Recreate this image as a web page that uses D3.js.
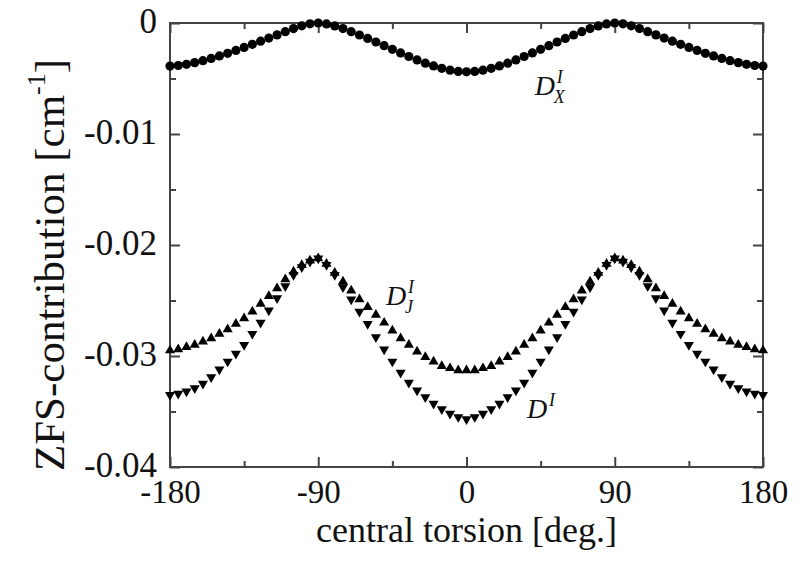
<!DOCTYPE html>
<html>
<head>
	<meta charset="utf-8">
	<script src="https://d3js.org/d3.v7.min.js"></script>
	<style>
		body { margin: 0; background: #fff; }
		text { font-family: "Liberation Serif", "Times New Roman", serif; fill: #111; }
	</style>
</head>
<body>
	<script type="text/javascript">

		// torsion angles -180..180 every 5 deg
		var angles = [-180,-175,-170,-165,-160,-155,-150,-145,-140,-135,-130,-125,-120,-115,-110,-105,-100,-95,
			-90,-85,-80,-75,-70,-65,-60,-55,-50,-45,-40,-35,-30,-25,-20,-15,-10,-5,
			0,5,10,15,20,25,30,35,40,45,50,55,60,65,70,75,80,85,
			90,95,100,105,110,115,120,125,130,135,140,145,150,155,160,165,170,175,180];

		// D_X^I (circles)
		var dX = [-0.00388,-0.00383,-0.00372,-0.00357,-0.00339,-0.00319,-0.00297,-0.00273,-0.00247,-0.00220,-0.00192,-0.00164,-0.00136,-0.00107,-0.00078,-0.00050,-0.00025,-0.00007,
			0.00000,-0.00008,-0.00026,-0.00050,-0.00078,-0.00108,-0.00139,-0.00171,-0.00204,-0.00237,-0.00270,-0.00302,-0.00333,-0.00362,-0.00387,-0.00408,-0.00425,-0.00436,
			-0.00440,-0.00436,-0.00425,-0.00408,-0.00387,-0.00362,-0.00333,-0.00302,-0.00270,-0.00237,-0.00204,-0.00171,-0.00139,-0.00108,-0.00078,-0.00050,-0.00026,-0.00008,
			0.00000,-0.00007,-0.00025,-0.00050,-0.00078,-0.00107,-0.00136,-0.00164,-0.00192,-0.00220,-0.00247,-0.00273,-0.00297,-0.00319,-0.00339,-0.00357,-0.00372,-0.00383,-0.00388];

		// D_J^I (up triangles)
		var dJ = [-0.0295,-0.0294,-0.0292,-0.0290,-0.0287,-0.0284,-0.0280,-0.0276,-0.0271,-0.0266,-0.0260,-0.0253,-0.0246,-0.0239,-0.0231,-0.0224,-0.0218,-0.0214,
			-0.0212,-0.0217,-0.0225,-0.0233,-0.0241,-0.0249,-0.0256,-0.0263,-0.0270,-0.0277,-0.0284,-0.0290,-0.0296,-0.0301,-0.0305,-0.0309,-0.0311,-0.0313,
			-0.0313,-0.0313,-0.0311,-0.0309,-0.0305,-0.0301,-0.0296,-0.0290,-0.0284,-0.0277,-0.0270,-0.0263,-0.0256,-0.0249,-0.0241,-0.0233,-0.0225,-0.0217,
			-0.0212,-0.0214,-0.0218,-0.0224,-0.0231,-0.0239,-0.0246,-0.0253,-0.0260,-0.0266,-0.0271,-0.0276,-0.0280,-0.0284,-0.0287,-0.0290,-0.0292,-0.0294,-0.0295];

		// D^I (down triangles)
		var dTot = [-0.0335,-0.0334,-0.0332,-0.0329,-0.0325,-0.0319,-0.0312,-0.0305,-0.0298,-0.0290,-0.0280,-0.0270,-0.0259,-0.0248,-0.0237,-0.0227,-0.0220,-0.0215,
			-0.0212,-0.0218,-0.0227,-0.0238,-0.0249,-0.0260,-0.0271,-0.0283,-0.0294,-0.0305,-0.0315,-0.0324,-0.0331,-0.0337,-0.0343,-0.0348,-0.0352,-0.0355,
			-0.0357,-0.0355,-0.0352,-0.0348,-0.0343,-0.0337,-0.0331,-0.0324,-0.0315,-0.0305,-0.0294,-0.0283,-0.0271,-0.0260,-0.0249,-0.0238,-0.0227,-0.0218,
			-0.0212,-0.0215,-0.0220,-0.0227,-0.0237,-0.0248,-0.0259,-0.0270,-0.0280,-0.0290,-0.0298,-0.0305,-0.0312,-0.0319,-0.0325,-0.0329,-0.0332,-0.0334,-0.0335];

		var xTicks = [-180, -90, 0, 90, 180];
		var xMinor = [-135, -45, 45, 135];
		var yTicks = [0, -0.01, -0.02, -0.03, -0.04];
		var yMinor = [-0.005, -0.015, -0.025, -0.035];

		var w = 800;
		var h = 573;
		var mLeft = 170, mRight = 763, mTop = 23, mBottom = 467;

		var svg = d3.select("body")
				.append("svg")
				.attr("width", w)
				.attr("height", h);

		var xScale = d3.scaleLinear()
					.domain([-180, 180])
					.range([mLeft, mRight]);

		var yScale = d3.scaleLinear()
					.domain([-0.04, 0])
					.range([mBottom, mTop]);

		var axisColor = "#444";

		// plain hyphen minus like the original
		function fmtX(d) { return String(d); }
		function fmtY(d) { return d === 0 ? "0" : (d < 0 ? "-" : "") + Math.abs(d).toFixed(2); }

		function styleAxis(g) {
			g.select(".domain").remove();
			g.selectAll(".tick line").attr("stroke", axisColor).attr("stroke-width", 2);
			g.selectAll("text").attr("fill", "#111").style("font-family", "Liberation Serif");
		}

		// major ticks with labels
		svg.append("g")
			.attr("transform", "translate(0," + mBottom + ")")
			.call(d3.axisBottom(xScale).tickValues(xTicks).tickSize(-10).tickPadding(13).tickFormat(fmtX))
			.call(styleAxis)
			.selectAll("text")
			.style("font-size", "33px");

		svg.append("g")
			.attr("transform", "translate(" + mLeft + ",0)")
			.call(d3.axisLeft(yScale).tickValues(yTicks).tickSize(-10).tickPadding(13).tickFormat(fmtY))
			.call(styleAxis)
			.selectAll("text")
			.attr("dy", "0.28em")
			.style("font-size", "35px");

		// mirrored ticks on top and right
		svg.append("g")
			.attr("transform", "translate(0," + mTop + ")")
			.call(d3.axisTop(xScale).tickValues(xTicks).tickSize(-10).tickFormat(""))
			.call(styleAxis);

		svg.append("g")
			.attr("transform", "translate(" + mRight + ",0)")
			.call(d3.axisRight(yScale).tickValues(yTicks).tickSize(-10).tickFormat(""))
			.call(styleAxis);

		// minor ticks
		svg.append("g")
			.attr("transform", "translate(0," + mBottom + ")")
			.call(d3.axisBottom(xScale).tickValues(xMinor).tickSize(-6).tickFormat(""))
			.call(styleAxis);
		svg.append("g")
			.attr("transform", "translate(0," + mTop + ")")
			.call(d3.axisTop(xScale).tickValues(xMinor).tickSize(-6).tickFormat(""))
			.call(styleAxis);
		svg.append("g")
			.attr("transform", "translate(" + mLeft + ",0)")
			.call(d3.axisLeft(yScale).tickValues(yMinor).tickSize(-6).tickFormat(""))
			.call(styleAxis);
		svg.append("g")
			.attr("transform", "translate(" + mRight + ",0)")
			.call(d3.axisRight(yScale).tickValues(yMinor).tickSize(-6).tickFormat(""))
			.call(styleAxis);

		// frame
		svg.append("rect")
			.attr("x", mLeft)
			.attr("y", mTop)
			.attr("width", mRight - mLeft)
			.attr("height", mBottom - mTop)
			.attr("fill", "none")
			.attr("stroke", axisColor)
			.attr("stroke-width", 2);

		// series
		svg.append("g").selectAll("circle")
			.data(dX)
			.enter()
			.append("circle")
			.attr("cx", function(d, i){ return xScale(angles[i]); })
			.attr("cy", function(d){ return yScale(d); })
			.attr("r", 4.6)
			.attr("fill", "#000");

		var tri = d3.symbol().type(d3.symbolTriangle).size(44);

		svg.append("g").selectAll("path")
			.data(dJ)
			.enter()
			.append("path")
			.attr("d", tri)
			.attr("transform", function(d, i){
				return "translate(" + xScale(angles[i]) + "," + yScale(d) + ")";
			})
			.attr("fill", "#000");

		svg.append("g").selectAll("path")
			.data(dTot)
			.enter()
			.append("path")
			.attr("d", tri)
			.attr("transform", function(d, i){
				return "translate(" + xScale(angles[i]) + "," + yScale(d) + ") rotate(180)";
			})
			.attr("fill", "#000");

		// series labels
		function label(ang, val, sub) {
			var x0 = xScale(ang), y0 = yScale(val);
			var g = svg.append("g").style("font-style", "italic");
			g.append("text").attr("x", x0).attr("y", y0).attr("fill", "#333").style("font-size", "28px").text("D");
			g.append("text").attr("x", x0 + 22).attr("y", y0 - 12).attr("fill", "#333").style("font-size", "18px").text("I");
			if (sub) {
				g.append("text").attr("x", x0 + 19).attr("y", y0 + 8).attr("fill", "#333").style("font-size", "18px").text(sub);
			}
		}
		label(41.5, -0.0065, "X");
		label(-48.9, -0.0254, "J");
		label(36.7, -0.0356, null);

		// axis titles
		svg.append("text")
			.attr("x", (mLeft + mRight) / 2)
			.attr("y", 542)
			.attr("text-anchor", "middle")
			.style("font-size", "36px")
			.text("central torsion [deg.]");

		var yl = svg.append("text")
			.attr("transform", "translate(64," + 265 + ") rotate(-90)")
			.attr("text-anchor", "middle")
			.style("font-size", "43px");
		yl.append("tspan").text("ZFS-contribution [cm");
		yl.append("tspan").attr("dy", "-0.75em").style("font-size", "26px").text("-1");
		yl.append("tspan").attr("dy", "0.45em").text("]");

	</script>
</body>
</html>
